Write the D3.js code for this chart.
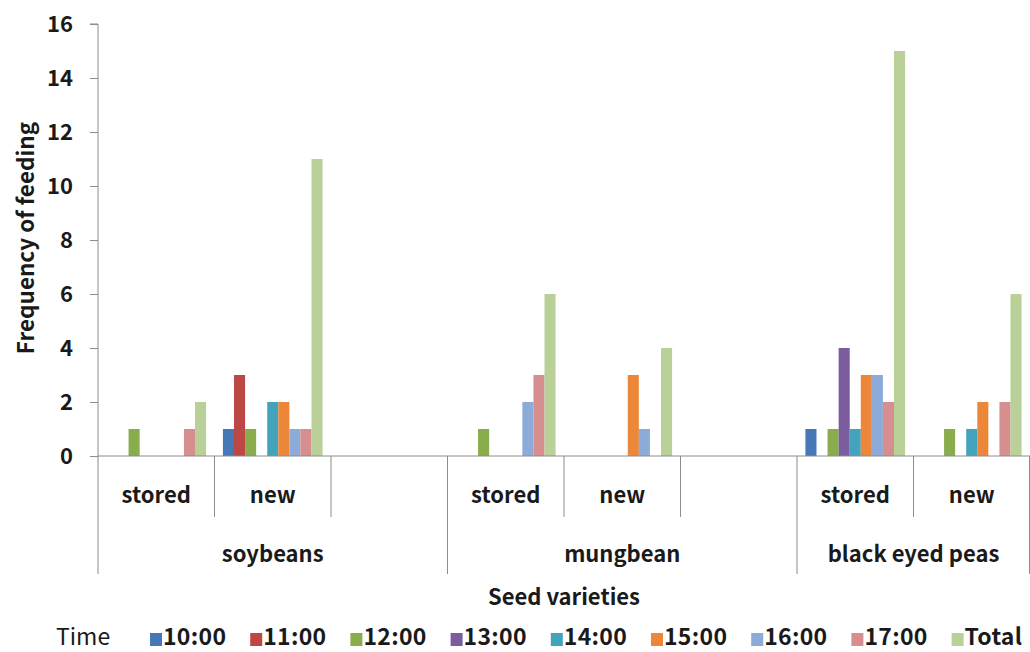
<!DOCTYPE html>
<html>
<head>
<meta charset="utf-8">
<script src="https://cdn.jsdelivr.net/npm/d3@7"></script>
<style>
  html, body { margin: 0; padding: 0; background: #fff; }
  svg { display: block; }
  text { font-family: "Noto Sans CJK KR", "Noto Sans", sans-serif; fill: #1a1a1a; }
</style>
</head>
<body>
<svg id="chart" width="1030" height="652"></svg>
<script>
// Seed varieties and condition (blank slots keep the group spacing)
const groups = ["soybeans", "mungbean", "black eyed peas"];
const slots = [
  ["soybeans", "stored"], ["soybeans", "new"], ["soybeans", ""],
  ["mungbean", "stored"], ["mungbean", "new"], ["mungbean", ""],
  ["black eyed peas", "stored"], ["black eyed peas", "new"]
];
const seriesNames = ["10:00", "11:00", "12:00", "13:00", "14:00", "15:00", "16:00", "17:00", "Total"];

// Feeding counts per time slot, one value per category slot
const t1000  = [0, 1, null, 0, 0, null, 1, 0];
const t1100  = [0, 3, null, 0, 0, null, 0, 0];
const t1200  = [1, 1, null, 1, 0, null, 1, 1];
const t1300  = [0, 0, null, 0, 0, null, 4, 0];
const t1400  = [0, 2, null, 0, 0, null, 1, 1];
const t1500  = [0, 2, null, 0, 3, null, 3, 2];
const t1600  = [0, 1, null, 2, 1, null, 3, 0];
const t1700  = [1, 1, null, 3, 0, null, 2, 2];
const total  = [2, 11, null, 6, 4, null, 15, 6];
const seriesValues = [t1000, t1100, t1200, t1300, t1400, t1500, t1600, t1700, total];

const yTicks = [0, 2, 4, 6, 8, 10, 12, 14, 16];
const colors = ["#4677b6", "#bc4744", "#89ad4c", "#7b5c9e", "#43a3bd", "#ec873a", "#8dabd8", "#d68f8e", "#b9d198"];

const svg = d3.select("#chart");
const plotLeft = 98, plotRight = 1030, plotTop = 24, plotBottom = 456;

const x = d3.scaleBand().domain(d3.range(slots.length)).range([plotLeft, plotRight]).padding(0);
const xi = d3.scaleBand().domain(d3.range(seriesNames.length)).range([0, x.bandwidth()]).paddingInner(0).paddingOuter(0.76);
const y = d3.scaleLinear().domain([0, 16]).range([plotBottom, plotTop]);

// Bars
seriesValues.forEach((vals, si) => {
  svg.append("g")
    .selectAll("rect")
    .data(vals.map((v, ci) => ({ v, ci })).filter(d => d.v))
    .join("rect")
    .attr("x", d => x(d.ci) + xi(si))
    .attr("width", xi.bandwidth())
    .attr("y", d => y(d.v))
    .attr("height", d => y(0) - y(d.v))
    .attr("fill", colors[si]);
});

// Y axis
const yAxis = d3.axisLeft(y).tickValues(yTicks).tickSize(8).tickPadding(17);
const gy = svg.append("g").attr("transform", `translate(${plotLeft},0)`).call(yAxis);
gy.select(".domain").attr("stroke", "#8c8c8c").attr("d", `M-8,${plotTop}H0V${plotBottom}`);
gy.selectAll(".tick line").attr("stroke", "#8c8c8c");
gy.selectAll(".tick text")
  .style("font-size", "22px").style("font-weight", "bold")
  .attr("fill", "#1a1a1a").attr("dy", "0.35em");

// X axis baseline
svg.append("line")
  .attr("x1", plotLeft).attr("x2", plotRight).attr("y1", plotBottom).attr("y2", plotBottom)
  .attr("stroke", "#8c8c8c");

// Category dividers: short ones between conditions, long ones between varieties
const groupStarts = slots.map((s, i) => i).filter(i => i === 0 || slots[i][0] !== slots[i - 1][0]);
d3.range(slots.length + 1).forEach(i => {
  const xpos = i < slots.length ? x(i) : plotRight - 0.5;
  const long = groupStarts.includes(i) || i === slots.length;
  svg.append("line")
    .attr("x1", xpos).attr("x2", xpos)
    .attr("y1", plotBottom).attr("y2", long ? 574 : 517)
    .attr("stroke", "#8c8c8c");
});

// Condition labels
svg.append("g").selectAll("text")
  .data(slots.map((s, i) => ({ label: s[1], i })).filter(d => d.label))
  .join("text")
  .attr("x", d => x(d.i) + x.bandwidth() / 2)
  .attr("y", 503)
  .attr("text-anchor", "middle")
  .style("font-size", "22px").style("font-weight", "bold")
  .text(d => d.label);

// Variety labels
svg.append("g").selectAll("text")
  .data(groups)
  .join("text")
  .attr("x", g => {
    const idx = slots.map((s, i) => i).filter(i => slots[i][0] === g);
    const x0 = x(idx[0]);
    const x1 = Math.min(x(idx[idx.length - 1]) + x.bandwidth(), plotRight);
    return (x0 + x1) / 2;
  })
  .attr("y", 562)
  .attr("text-anchor", "middle")
  .style("font-size", "22px").style("font-weight", "bold")
  .text(g => g);

// Axis titles
svg.append("text")
  .attr("x", 564).attr("y", 605)
  .attr("text-anchor", "middle")
  .style("font-size", "22px").style("font-weight", "bold")
  .text("Seed varieties");

svg.append("text")
  .attr("transform", "translate(34,238) rotate(-90)")
  .attr("text-anchor", "middle")
  .style("font-size", "22.5px").style("font-weight", "bold")
  .text("Frequency of feeding");

// Legend
svg.append("text")
  .attr("x", 56).attr("y", 645)
  .style("font-size", "23px")
  .attr("fill", "#333")
  .text("Time");

const legend = svg.append("g").selectAll("g")
  .data(seriesNames)
  .join("g")
  .attr("transform", (d, i) => `translate(${150 + i * 100.2},0)`);
legend.append("rect")
  .attr("x", 0).attr("y", 633).attr("width", 12).attr("height", 13)
  .attr("fill", (d, i) => colors[i]);
legend.append("text")
  .attr("x", 13).attr("y", 645)
  .style("font-size", "23px").style("font-weight", "bold")
  .style("letter-spacing", "0.3px")
  .text(d => d);
</script>
</body>
</html>
